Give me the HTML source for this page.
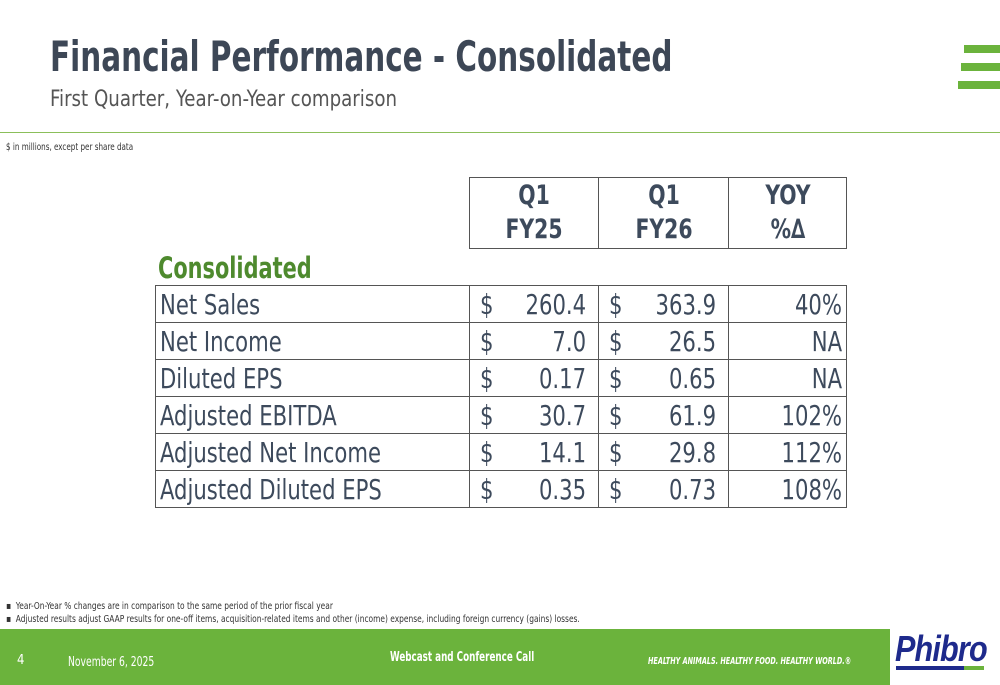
<!DOCTYPE html>
<html><head><meta charset="utf-8"><style>
body{margin:0;width:1000px;height:685px;overflow:hidden;background:#fff;position:relative;font-family:"Liberation Sans Narrow","DejaVu Sans Condensed","Liberation Sans",sans-serif;}
.a{position:absolute;white-space:nowrap;transform-origin:left top}
table{position:absolute;border-collapse:collapse;color:#3d4a5c;table-layout:fixed}
td{border:1px solid #555;padding:0 4px;height:37px;font-size:28px;overflow:hidden;white-space:nowrap;box-sizing:border-box}
.s{display:inline-block;transform:scaleX(0.84);transform-origin:left center}
.r{display:inline-block;transform:scaleX(0.84);transform-origin:right center}
</style></head><body>
<div class="a" style="left:50px;top:32px;font-size:42px;font-weight:bold;color:#3d4756;transform:scaleX(0.78)">Financial Performance - Consolidated</div>
<div class="a" style="left:50px;top:87px;font-size:22px;color:#555;transform:scaleX(0.92)">First Quarter, Year-on-Year comparison</div>
<div class="a" style="left:0;top:132px;width:1000px;height:1px;background:#8bbf5a"></div>
<div class="a" style="left:958px;top:45px;width:42px">
<div style="height:8px;background:#6bb33c;margin-bottom:10px;margin-left:6px"></div>
<div style="height:8px;background:#6bb33c;margin-bottom:10px;margin-left:3px"></div>
<div style="height:8px;background:#6bb33c"></div></div>
<div class="a" style="left:6px;top:142px;font-size:10px;color:#333;transform:scaleX(0.8)">$ in millions, except per share data</div>
<table style="left:469px;top:177px;width:377px">
<colgroup><col style="width:129px"><col style="width:130px"><col style="width:118px"></colgroup>
<tr style="text-align:center;font-weight:bold;line-height:34px">
<td style="height:71px;font-size:27px"><span class="s" style="transform-origin:center">Q1<br>FY25</span></td>
<td style="height:71px;font-size:27px"><span class="s" style="transform-origin:center">Q1<br>FY26</span></td>
<td style="height:71px;font-size:27px"><span class="s" style="transform-origin:center">YOY<br>%∆</span></td></tr></table>
<div class="a" style="left:158px;top:251px;font-size:29px;font-weight:bold;color:#4e8a2e;transform:scaleX(0.8)">Consolidated</div>
<table style="left:155px;top:285px;width:691px">
<colgroup><col style="width:314px"><col style="width:129px"><col style="width:130px"><col style="width:118px"></colgroup>
<tbody id="tb"></tbody></table>
<div class="a" style="left:6px;top:600px;font-size:10px;color:#333;line-height:13px;transform:scaleX(0.83)">▪&nbsp; Year-On-Year % changes are in comparison to the same period of the prior fiscal year<br>▪&nbsp; Adjusted results adjust GAAP results for one-off items, acquisition-related items and other (income) expense, including foreign currency (gains) losses.</div>
<div class="a" style="left:0;top:629px;width:890px;height:56px;background:#6bb33c"></div>
<div class="a" style="left:17px;top:653px;font-size:13px;color:#fff">4</div>
<div class="a" style="left:68px;top:655px;font-size:13px;color:#fff;transform:scaleX(0.79)">November 6, 2025</div>
<div class="a" style="left:390px;top:650px;font-size:13px;font-weight:bold;color:#fff;transform:scaleX(0.75)">Webcast and Conference Call</div>
<div class="a" style="left:648px;top:656px;font-size:10px;font-weight:bold;font-style:italic;color:#fff;transform:scaleX(0.72)">HEALTHY ANIMALS. HEALTHY FOOD. HEALTHY WORLD.®</div>
<div class="a" style="left:895px;top:628px;font-size:36px;font-weight:bold;font-style:italic;color:#1e2a8c;font-family:'Liberation Sans',sans-serif;letter-spacing:-1px;transform:scaleX(0.85)">Phibro</div>
<div class="a" style="left:896px;top:666px;width:68px;height:4px;background:#1e2a8c"></div>
<div class="a" style="left:964px;top:666px;width:20px;height:4px;background:#6bb33c"></div>
<script>
const labels=["Net Sales","Net Income","Diluted EPS","Adjusted EBITDA","Adjusted Net Income","Adjusted Diluted EPS"];
const fy25=["260.4","7.0","0.17","30.7","14.1","0.35"];
const fy26=["363.9","26.5","0.65","61.9","29.8","0.73"];
const yoy=["40%","NA","NA","102%","112%","108%"];
const tb=document.getElementById('tb');
labels.forEach((l,i)=>{
 const tr=document.createElement('tr');
 
 
 tr.innerHTML=`<td><span class="s">${l}</span></td>`+
 `<td style="padding:0 12px 0 10px"><span class="s" style="float:left">$</span><span class="r" style="float:right">${fy25[i]}</span></td>`+
 `<td style="padding:0 12px 0 10px"><span class="s" style="float:left">$</span><span class="r" style="float:right">${fy26[i]}</span></td>`+
 `<td style="text-align:right;padding-right:4px"><span class="r">${yoy[i]}</span></td>`;
 tb.appendChild(tr);
});
</script>
</body></html>
